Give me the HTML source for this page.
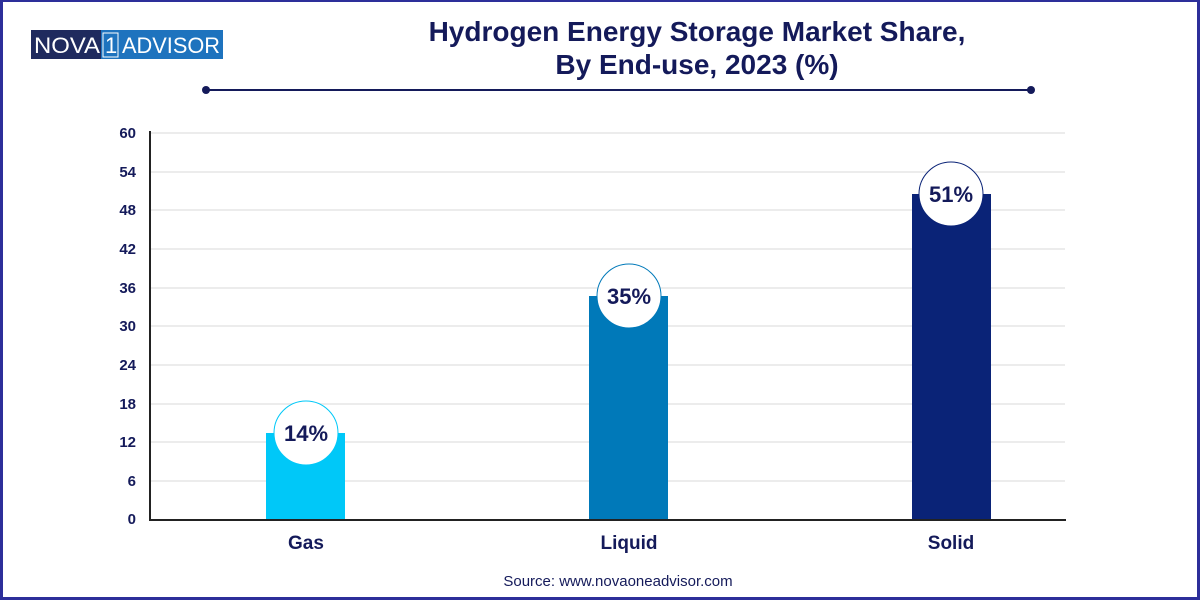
<!DOCTYPE html>
<html><head><style>
body{margin:0;background:#fff;}
.wrap{position:relative;width:1200px;height:600px;box-sizing:border-box;border:3px solid #2d2f9a;border-top-width:2px;overflow:hidden;font-family:"Liberation Sans",sans-serif;}
</style></head><body>
<div class="wrap">
<svg width="1200" height="600" style="position:absolute;left:-3px;top:-2px" font-family="Liberation Sans, sans-serif">
<rect x="31" y="30" width="70" height="29" fill="#1f2a5e"/>
<rect x="101" y="30" width="122" height="29" fill="#1e73be"/>
<text x="34" y="53" font-size="22" fill="#fff" textLength="66" lengthAdjust="spacingAndGlyphs">NOVA</text>
<rect x="103" y="33" width="15" height="24" fill="none" stroke="#fff" stroke-width="1"/>
<text x="105" y="53" font-size="22" fill="#fff">1</text>
<text x="122" y="53" font-size="22" fill="#fff" textLength="98" lengthAdjust="spacingAndGlyphs">ADVISOR</text>
<text x="697" y="41" font-size="28" font-weight="bold" fill="#141a5a" text-anchor="middle">Hydrogen Energy Storage Market Share,</text>
<text x="697" y="74" font-size="28" font-weight="bold" fill="#141a5a" text-anchor="middle">By End-use, 2023 (%)</text>
<line x1="206" y1="90" x2="1031" y2="90" stroke="#141a5a" stroke-width="2"/>
<circle cx="206" cy="90" r="4" fill="#141a5a"/><circle cx="1031" cy="90" r="4" fill="#141a5a"/>
<g stroke="#ececec" stroke-width="2">
<line x1="151" x2="1065" y1="133" y2="133"/><line x1="151" x2="1065" y1="172" y2="172"/>
<line x1="151" x2="1065" y1="210" y2="210"/><line x1="151" x2="1065" y1="249" y2="249"/>
<line x1="151" x2="1065" y1="288" y2="288"/><line x1="151" x2="1065" y1="326" y2="326"/>
<line x1="151" x2="1065" y1="365" y2="365"/><line x1="151" x2="1065" y1="404" y2="404"/>
<line x1="151" x2="1065" y1="442" y2="442"/><line x1="151" x2="1065" y1="481" y2="481"/>
</g>
<g font-size="15" font-weight="bold" fill="#141a5a" text-anchor="end">
<text x="136" y="138">60</text><text x="136" y="177">54</text><text x="136" y="215">48</text>
<text x="136" y="254">42</text><text x="136" y="293">36</text><text x="136" y="331">30</text>
<text x="136" y="370">24</text><text x="136" y="409">18</text><text x="136" y="447">12</text>
<text x="136" y="486">6</text><text x="136" y="524">0</text>
</g>
<rect x="266" y="433" width="79" height="86" fill="#00c8f8"/>
<rect x="589" y="296" width="79" height="223" fill="#0079b9"/>
<rect x="912" y="194" width="79" height="325" fill="#0a2377"/>
<line x1="150" y1="131" x2="150" y2="520" stroke="#222" stroke-width="2"/>
<line x1="149" y1="520" x2="1066" y2="520" stroke="#222" stroke-width="2"/>
<circle cx="306" cy="433" r="32" fill="#fff" stroke="#00c8f8" stroke-width="1"/>
<circle cx="629" cy="296" r="32" fill="#fff" stroke="#0079b9" stroke-width="1"/>
<circle cx="951" cy="194" r="32" fill="#fff" stroke="#0a2377" stroke-width="1"/>
<g font-size="22" font-weight="bold" fill="#141a5a" text-anchor="middle">
<text x="306" y="441">14%</text><text x="629" y="304">35%</text><text x="951" y="202">51%</text>
</g>
<g font-size="19" font-weight="bold" fill="#141a5a" text-anchor="middle">
<text x="306" y="549">Gas</text><text x="629" y="549">Liquid</text><text x="951" y="549">Solid</text>
</g>
<text x="618" y="586" font-size="15" fill="#141a5a" text-anchor="middle">Source: www.novaoneadvisor.com</text>
</svg>
</div>
</body></html>
